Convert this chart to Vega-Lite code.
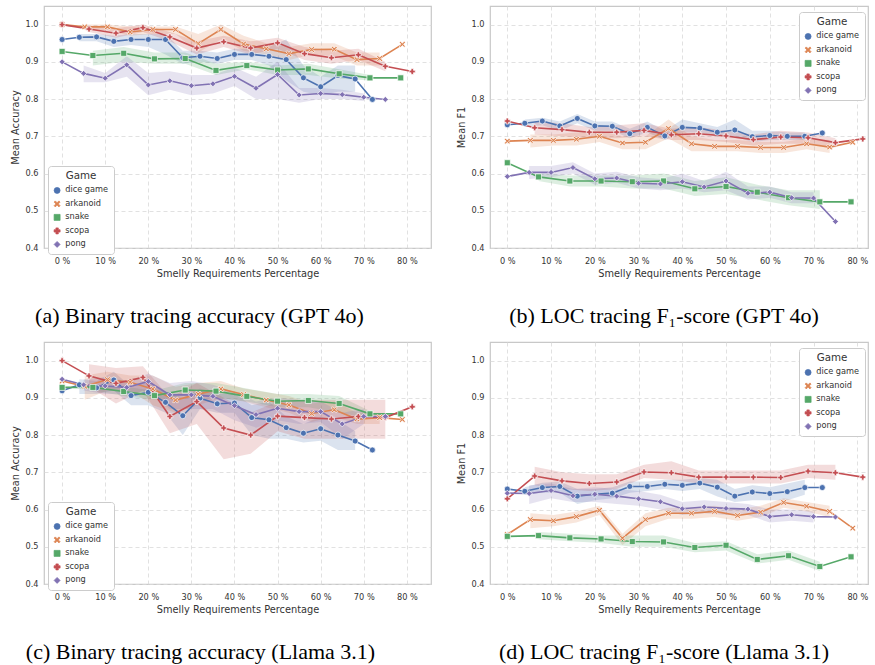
{
"$schema": "https://vega.github.io/schema/vega-lite/v6.json",
"padding": {"left": 10, "top": 5, "right": 0, "bottom": 0},
"datasets": {"d": [
{"p":"a","g":"dice game","x":0,"y":0.960},
{"p":"a","g":"dice game","x":4,"y":0.966,"lo":0.955,"hi":0.975},
{"p":"a","g":"dice game","x":8,"y":0.967,"lo":0.955,"hi":0.975},
{"p":"a","g":"dice game","x":12,"y":0.955,"lo":0.94,"hi":0.97},
{"p":"a","g":"dice game","x":16,"y":0.960,"lo":0.945,"hi":0.975},
{"p":"a","g":"dice game","x":20,"y":0.960,"lo":0.94,"hi":0.975},
{"p":"a","g":"dice game","x":24,"y":0.960,"lo":0.92,"hi":0.975},
{"p":"a","g":"dice game","x":28,"y":0.911,"lo":0.895,"hi":0.93},
{"p":"a","g":"dice game","x":32,"y":0.915,"lo":0.90,"hi":0.93},
{"p":"a","g":"dice game","x":36,"y":0.909,"lo":0.895,"hi":0.925},
{"p":"a","g":"dice game","x":40,"y":0.920,"lo":0.905,"hi":0.935},
{"p":"a","g":"dice game","x":44,"y":0.920,"lo":0.905,"hi":0.935},
{"p":"a","g":"dice game","x":48,"y":0.915,"lo":0.89,"hi":0.94},
{"p":"a","g":"dice game","x":52,"y":0.906,"lo":0.85,"hi":0.96},
{"p":"a","g":"dice game","x":56,"y":0.857,"lo":0.82,"hi":0.89},
{"p":"a","g":"dice game","x":60,"y":0.833,"lo":0.81,"hi":0.86},
{"p":"a","g":"dice game","x":64,"y":0.863,"lo":0.82,"hi":0.89},
{"p":"a","g":"dice game","x":68,"y":0.854,"lo":0.82,"hi":0.89},
{"p":"a","g":"dice game","x":72,"y":0.799},
{"p":"a","g":"arkanoid","x":0,"y":1.0},
{"p":"a","g":"arkanoid","x":5.26,"y":0.994,"lo":0.985,"hi":1.0},
{"p":"a","g":"arkanoid","x":10.53,"y":0.994,"lo":0.985,"hi":1.0},
{"p":"a","g":"arkanoid","x":15.79,"y":0.980,"lo":0.97,"hi":0.995},
{"p":"a","g":"arkanoid","x":21.05,"y":0.987,"lo":0.975,"hi":0.995},
{"p":"a","g":"arkanoid","x":26.32,"y":0.987,"lo":0.975,"hi":0.995},
{"p":"a","g":"arkanoid","x":31.58,"y":0.949,"lo":0.925,"hi":0.975},
{"p":"a","g":"arkanoid","x":36.84,"y":0.987,"lo":0.96,"hi":1.0},
{"p":"a","g":"arkanoid","x":42.11,"y":0.948,"lo":0.93,"hi":0.97},
{"p":"a","g":"arkanoid","x":47.37,"y":0.935,"lo":0.92,"hi":0.95},
{"p":"a","g":"arkanoid","x":52.63,"y":0.922,"lo":0.905,"hi":0.94},
{"p":"a","g":"arkanoid","x":57.89,"y":0.933,"lo":0.92,"hi":0.95},
{"p":"a","g":"arkanoid","x":63.16,"y":0.934,"lo":0.915,"hi":0.95},
{"p":"a","g":"arkanoid","x":68.42,"y":0.906,"lo":0.89,"hi":0.925},
{"p":"a","g":"arkanoid","x":73.68,"y":0.909,"lo":0.89,"hi":0.925},
{"p":"a","g":"arkanoid","x":78.95,"y":0.947},
{"p":"a","g":"snake","x":0,"y":0.928},
{"p":"a","g":"snake","x":7.14,"y":0.917,"lo":0.89,"hi":0.93},
{"p":"a","g":"snake","x":14.29,"y":0.923,"lo":0.90,"hi":0.94},
{"p":"a","g":"snake","x":21.43,"y":0.908,"lo":0.895,"hi":0.925},
{"p":"a","g":"snake","x":28.57,"y":0.909,"lo":0.895,"hi":0.925},
{"p":"a","g":"snake","x":35.71,"y":0.877,"lo":0.865,"hi":0.895},
{"p":"a","g":"snake","x":42.86,"y":0.890,"lo":0.88,"hi":0.90},
{"p":"a","g":"snake","x":50,"y":0.878,"lo":0.865,"hi":0.89},
{"p":"a","g":"snake","x":57.14,"y":0.881,"lo":0.865,"hi":0.895},
{"p":"a","g":"snake","x":64.29,"y":0.868,"lo":0.855,"hi":0.88},
{"p":"a","g":"snake","x":71.43,"y":0.857,"lo":0.85,"hi":0.865},
{"p":"a","g":"snake","x":78.57,"y":0.857},
{"p":"a","g":"scopa","x":0,"y":1.0},
{"p":"a","g":"scopa","x":6.25,"y":0.988,"lo":0.98,"hi":0.995},
{"p":"a","g":"scopa","x":12.5,"y":0.977,"lo":0.965,"hi":0.99},
{"p":"a","g":"scopa","x":18.75,"y":0.992,"lo":0.98,"hi":1.0},
{"p":"a","g":"scopa","x":25,"y":0.967,"lo":0.955,"hi":0.98},
{"p":"a","g":"scopa","x":31.25,"y":0.937,"lo":0.92,"hi":0.955},
{"p":"a","g":"scopa","x":37.5,"y":0.954,"lo":0.94,"hi":0.97},
{"p":"a","g":"scopa","x":43.75,"y":0.937,"lo":0.92,"hi":0.955},
{"p":"a","g":"scopa","x":50,"y":0.951,"lo":0.935,"hi":0.965},
{"p":"a","g":"scopa","x":56.25,"y":0.922,"lo":0.905,"hi":0.94},
{"p":"a","g":"scopa","x":62.5,"y":0.911,"lo":0.895,"hi":0.93},
{"p":"a","g":"scopa","x":68.75,"y":0.919,"lo":0.905,"hi":0.935},
{"p":"a","g":"scopa","x":75,"y":0.888,"lo":0.875,"hi":0.90},
{"p":"a","g":"scopa","x":81.25,"y":0.874},
{"p":"a","g":"pong","x":0,"y":0.900},
{"p":"a","g":"pong","x":5,"y":0.869,"lo":0.845,"hi":0.89},
{"p":"a","g":"pong","x":10,"y":0.856,"lo":0.845,"hi":0.87},
{"p":"a","g":"pong","x":15,"y":0.892,"lo":0.86,"hi":0.915},
{"p":"a","g":"pong","x":20,"y":0.838,"lo":0.81,"hi":0.87},
{"p":"a","g":"pong","x":25,"y":0.849,"lo":0.825,"hi":0.875},
{"p":"a","g":"pong","x":30,"y":0.836,"lo":0.81,"hi":0.865},
{"p":"a","g":"pong","x":35,"y":0.841,"lo":0.815,"hi":0.865},
{"p":"a","g":"pong","x":40,"y":0.861,"lo":0.835,"hi":0.885},
{"p":"a","g":"pong","x":45,"y":0.829,"lo":0.80,"hi":0.86},
{"p":"a","g":"pong","x":50,"y":0.866,"lo":0.80,"hi":0.90},
{"p":"a","g":"pong","x":55,"y":0.811,"lo":0.79,"hi":0.83},
{"p":"a","g":"pong","x":60,"y":0.815,"lo":0.80,"hi":0.83},
{"p":"a","g":"pong","x":65,"y":0.812,"lo":0.80,"hi":0.825},
{"p":"a","g":"pong","x":70,"y":0.805,"lo":0.795,"hi":0.815},
{"p":"a","g":"pong","x":75,"y":0.799},

{"p":"b","g":"dice game","x":0,"y":0.731},
{"p":"b","g":"dice game","x":4,"y":0.735,"lo":0.725,"hi":0.745},
{"p":"b","g":"dice game","x":8,"y":0.741,"lo":0.73,"hi":0.75},
{"p":"b","g":"dice game","x":12,"y":0.728,"lo":0.715,"hi":0.74},
{"p":"b","g":"dice game","x":16,"y":0.748,"lo":0.735,"hi":0.76},
{"p":"b","g":"dice game","x":20,"y":0.728,"lo":0.715,"hi":0.74},
{"p":"b","g":"dice game","x":24,"y":0.727,"lo":0.715,"hi":0.74},
{"p":"b","g":"dice game","x":28,"y":0.707,"lo":0.695,"hi":0.72},
{"p":"b","g":"dice game","x":32,"y":0.724,"lo":0.71,"hi":0.74},
{"p":"b","g":"dice game","x":36,"y":0.701,"lo":0.69,"hi":0.715},
{"p":"b","g":"dice game","x":40,"y":0.724,"lo":0.71,"hi":0.745},
{"p":"b","g":"dice game","x":44,"y":0.722,"lo":0.71,"hi":0.735},
{"p":"b","g":"dice game","x":48,"y":0.711,"lo":0.70,"hi":0.725},
{"p":"b","g":"dice game","x":52,"y":0.717,"lo":0.70,"hi":0.745},
{"p":"b","g":"dice game","x":56,"y":0.699,"lo":0.685,"hi":0.715},
{"p":"b","g":"dice game","x":60,"y":0.702,"lo":0.69,"hi":0.715},
{"p":"b","g":"dice game","x":64,"y":0.700,"lo":0.69,"hi":0.71},
{"p":"b","g":"dice game","x":68,"y":0.700,"lo":0.69,"hi":0.71},
{"p":"b","g":"dice game","x":72,"y":0.709},
{"p":"b","g":"arkanoid","x":0,"y":0.687},
{"p":"b","g":"arkanoid","x":5.26,"y":0.689,"lo":0.67,"hi":0.705},
{"p":"b","g":"arkanoid","x":10.53,"y":0.689,"lo":0.675,"hi":0.705},
{"p":"b","g":"arkanoid","x":15.79,"y":0.692,"lo":0.675,"hi":0.71},
{"p":"b","g":"arkanoid","x":21.05,"y":0.700,"lo":0.685,"hi":0.715},
{"p":"b","g":"arkanoid","x":26.32,"y":0.682,"lo":0.665,"hi":0.70},
{"p":"b","g":"arkanoid","x":31.58,"y":0.684,"lo":0.665,"hi":0.70},
{"p":"b","g":"arkanoid","x":36.84,"y":0.721,"lo":0.695,"hi":0.745},
{"p":"b","g":"arkanoid","x":42.11,"y":0.680,"lo":0.66,"hi":0.70},
{"p":"b","g":"arkanoid","x":47.37,"y":0.673,"lo":0.66,"hi":0.69},
{"p":"b","g":"arkanoid","x":52.63,"y":0.673,"lo":0.66,"hi":0.69},
{"p":"b","g":"arkanoid","x":57.89,"y":0.670,"lo":0.655,"hi":0.685},
{"p":"b","g":"arkanoid","x":63.16,"y":0.670,"lo":0.655,"hi":0.685},
{"p":"b","g":"arkanoid","x":68.42,"y":0.680,"lo":0.665,"hi":0.695},
{"p":"b","g":"arkanoid","x":73.68,"y":0.671,"lo":0.655,"hi":0.69},
{"p":"b","g":"arkanoid","x":78.95,"y":0.684},
{"p":"b","g":"snake","x":0,"y":0.629},
{"p":"b","g":"snake","x":7.14,"y":0.591,"lo":0.58,"hi":0.60},
{"p":"b","g":"snake","x":14.29,"y":0.580,"lo":0.565,"hi":0.595},
{"p":"b","g":"snake","x":21.43,"y":0.580,"lo":0.565,"hi":0.595},
{"p":"b","g":"snake","x":28.57,"y":0.578,"lo":0.56,"hi":0.595},
{"p":"b","g":"snake","x":35.71,"y":0.580,"lo":0.56,"hi":0.60},
{"p":"b","g":"snake","x":42.86,"y":0.559,"lo":0.54,"hi":0.58},
{"p":"b","g":"snake","x":50,"y":0.565,"lo":0.545,"hi":0.59},
{"p":"b","g":"snake","x":57.14,"y":0.550,"lo":0.53,"hi":0.57},
{"p":"b","g":"snake","x":64.29,"y":0.535,"lo":0.515,"hi":0.555},
{"p":"b","g":"snake","x":71.43,"y":0.524,"lo":0.505,"hi":0.555},
{"p":"b","g":"snake","x":78.57,"y":0.524},
{"p":"b","g":"scopa","x":0,"y":0.741},
{"p":"b","g":"scopa","x":6.25,"y":0.723,"lo":0.705,"hi":0.74},
{"p":"b","g":"scopa","x":12.5,"y":0.718,"lo":0.70,"hi":0.735},
{"p":"b","g":"scopa","x":18.75,"y":0.711,"lo":0.695,"hi":0.725},
{"p":"b","g":"scopa","x":25,"y":0.711,"lo":0.695,"hi":0.73},
{"p":"b","g":"scopa","x":31.25,"y":0.716,"lo":0.70,"hi":0.735},
{"p":"b","g":"scopa","x":37.5,"y":0.704,"lo":0.69,"hi":0.72},
{"p":"b","g":"scopa","x":43.75,"y":0.707,"lo":0.69,"hi":0.725},
{"p":"b","g":"scopa","x":50,"y":0.701,"lo":0.685,"hi":0.715},
{"p":"b","g":"scopa","x":56.25,"y":0.691,"lo":0.675,"hi":0.705},
{"p":"b","g":"scopa","x":62.5,"y":0.698,"lo":0.68,"hi":0.715},
{"p":"b","g":"scopa","x":68.75,"y":0.696,"lo":0.68,"hi":0.71},
{"p":"b","g":"scopa","x":75,"y":0.683,"lo":0.67,"hi":0.695},
{"p":"b","g":"scopa","x":81.25,"y":0.693},
{"p":"b","g":"pong","x":0,"y":0.592},
{"p":"b","g":"pong","x":5,"y":0.603,"lo":0.585,"hi":0.62},
{"p":"b","g":"pong","x":10,"y":0.603,"lo":0.59,"hi":0.62},
{"p":"b","g":"pong","x":15,"y":0.616,"lo":0.60,"hi":0.63},
{"p":"b","g":"pong","x":20,"y":0.586,"lo":0.57,"hi":0.60},
{"p":"b","g":"pong","x":25,"y":0.588,"lo":0.575,"hi":0.605},
{"p":"b","g":"pong","x":30,"y":0.574,"lo":0.56,"hi":0.59},
{"p":"b","g":"pong","x":35,"y":0.572,"lo":0.555,"hi":0.585},
{"p":"b","g":"pong","x":40,"y":0.578,"lo":0.56,"hi":0.60},
{"p":"b","g":"pong","x":45,"y":0.564,"lo":0.55,"hi":0.58},
{"p":"b","g":"pong","x":50,"y":0.580,"lo":0.555,"hi":0.605},
{"p":"b","g":"pong","x":55,"y":0.547,"lo":0.53,"hi":0.565},
{"p":"b","g":"pong","x":60,"y":0.550,"lo":0.535,"hi":0.565},
{"p":"b","g":"pong","x":65,"y":0.535,"lo":0.52,"hi":0.55},
{"p":"b","g":"pong","x":70,"y":0.534,"lo":0.52,"hi":0.55},
{"p":"b","g":"pong","x":75,"y":0.471},

{"p":"c","g":"dice game","x":0,"y":0.919},
{"p":"c","g":"dice game","x":4,"y":0.935,"lo":0.91,"hi":0.95},
{"p":"c","g":"dice game","x":8,"y":0.927,"lo":0.91,"hi":0.945},
{"p":"c","g":"dice game","x":12,"y":0.948,"lo":0.92,"hi":0.97},
{"p":"c","g":"dice game","x":16,"y":0.906,"lo":0.88,"hi":0.93},
{"p":"c","g":"dice game","x":20,"y":0.915,"lo":0.88,"hi":0.945},
{"p":"c","g":"dice game","x":24,"y":0.888,"lo":0.86,"hi":0.915},
{"p":"c","g":"dice game","x":28,"y":0.852,"lo":0.80,"hi":0.90},
{"p":"c","g":"dice game","x":32,"y":0.899,"lo":0.87,"hi":0.925},
{"p":"c","g":"dice game","x":36,"y":0.884,"lo":0.86,"hi":0.91},
{"p":"c","g":"dice game","x":40,"y":0.886,"lo":0.86,"hi":0.91},
{"p":"c","g":"dice game","x":44,"y":0.847,"lo":0.80,"hi":0.88},
{"p":"c","g":"dice game","x":48,"y":0.841,"lo":0.79,"hi":0.89},
{"p":"c","g":"dice game","x":52,"y":0.820,"lo":0.79,"hi":0.85},
{"p":"c","g":"dice game","x":56,"y":0.805,"lo":0.78,"hi":0.83},
{"p":"c","g":"dice game","x":60,"y":0.817,"lo":0.785,"hi":0.85},
{"p":"c","g":"dice game","x":64,"y":0.800,"lo":0.76,"hi":0.84},
{"p":"c","g":"dice game","x":68,"y":0.784,"lo":0.76,"hi":0.81},
{"p":"c","g":"dice game","x":72,"y":0.760},
{"p":"c","g":"arkanoid","x":0,"y":0.945},
{"p":"c","g":"arkanoid","x":5.26,"y":0.931,"lo":0.895,"hi":0.96},
{"p":"c","g":"arkanoid","x":10.53,"y":0.949,"lo":0.92,"hi":0.97},
{"p":"c","g":"arkanoid","x":15.79,"y":0.942,"lo":0.92,"hi":0.96},
{"p":"c","g":"arkanoid","x":21.05,"y":0.924,"lo":0.88,"hi":0.96},
{"p":"c","g":"arkanoid","x":26.32,"y":0.894,"lo":0.86,"hi":0.93},
{"p":"c","g":"arkanoid","x":31.58,"y":0.910,"lo":0.88,"hi":0.94},
{"p":"c","g":"arkanoid","x":36.84,"y":0.924,"lo":0.90,"hi":0.945},
{"p":"c","g":"arkanoid","x":42.11,"y":0.909,"lo":0.89,"hi":0.925},
{"p":"c","g":"arkanoid","x":47.37,"y":0.894,"lo":0.875,"hi":0.915},
{"p":"c","g":"arkanoid","x":52.63,"y":0.881,"lo":0.86,"hi":0.905},
{"p":"c","g":"arkanoid","x":57.89,"y":0.858,"lo":0.835,"hi":0.885},
{"p":"c","g":"arkanoid","x":63.16,"y":0.868,"lo":0.85,"hi":0.89},
{"p":"c","g":"arkanoid","x":68.42,"y":0.843,"lo":0.83,"hi":0.86},
{"p":"c","g":"arkanoid","x":73.68,"y":0.847,"lo":0.83,"hi":0.86},
{"p":"c","g":"arkanoid","x":78.95,"y":0.842},
{"p":"c","g":"snake","x":0,"y":0.928},
{"p":"c","g":"snake","x":7.14,"y":0.928,"lo":0.92,"hi":0.935},
{"p":"c","g":"snake","x":14.29,"y":0.917,"lo":0.905,"hi":0.93},
{"p":"c","g":"snake","x":21.43,"y":0.906,"lo":0.895,"hi":0.92},
{"p":"c","g":"snake","x":28.57,"y":0.921,"lo":0.905,"hi":0.94},
{"p":"c","g":"snake","x":35.71,"y":0.918,"lo":0.90,"hi":0.94},
{"p":"c","g":"snake","x":42.86,"y":0.904,"lo":0.89,"hi":0.925},
{"p":"c","g":"snake","x":50,"y":0.891,"lo":0.875,"hi":0.91},
{"p":"c","g":"snake","x":57.14,"y":0.893,"lo":0.875,"hi":0.91},
{"p":"c","g":"snake","x":64.29,"y":0.885,"lo":0.86,"hi":0.905},
{"p":"c","g":"snake","x":71.43,"y":0.857,"lo":0.845,"hi":0.865},
{"p":"c","g":"snake","x":78.57,"y":0.857},
{"p":"c","g":"scopa","x":0,"y":1.0},
{"p":"c","g":"scopa","x":6.25,"y":0.959,"lo":0.93,"hi":0.99},
{"p":"c","g":"scopa","x":12.5,"y":0.939,"lo":0.885,"hi":0.98},
{"p":"c","g":"scopa","x":18.75,"y":0.955,"lo":0.92,"hi":0.985},
{"p":"c","g":"scopa","x":25,"y":0.850,"lo":0.805,"hi":0.90},
{"p":"c","g":"scopa","x":31.25,"y":0.890,"lo":0.83,"hi":0.94},
{"p":"c","g":"scopa","x":37.5,"y":0.819,"lo":0.735,"hi":0.90},
{"p":"c","g":"scopa","x":43.75,"y":0.800,"lo":0.75,"hi":0.86},
{"p":"c","g":"scopa","x":50,"y":0.851,"lo":0.81,"hi":0.89},
{"p":"c","g":"scopa","x":56.25,"y":0.847,"lo":0.79,"hi":0.895},
{"p":"c","g":"scopa","x":62.5,"y":0.843,"lo":0.79,"hi":0.895},
{"p":"c","g":"scopa","x":68.75,"y":0.850,"lo":0.79,"hi":0.895},
{"p":"c","g":"scopa","x":75,"y":0.847,"lo":0.79,"hi":0.895},
{"p":"c","g":"scopa","x":81.25,"y":0.876},
{"p":"c","g":"pong","x":0,"y":0.950},
{"p":"c","g":"pong","x":5,"y":0.935,"lo":0.92,"hi":0.95},
{"p":"c","g":"pong","x":10,"y":0.932,"lo":0.91,"hi":0.955},
{"p":"c","g":"pong","x":15,"y":0.928,"lo":0.91,"hi":0.945},
{"p":"c","g":"pong","x":20,"y":0.944,"lo":0.92,"hi":0.965},
{"p":"c","g":"pong","x":25,"y":0.908,"lo":0.87,"hi":0.94},
{"p":"c","g":"pong","x":30,"y":0.908,"lo":0.87,"hi":0.945},
{"p":"c","g":"pong","x":35,"y":0.904,"lo":0.87,"hi":0.935},
{"p":"c","g":"pong","x":40,"y":0.879,"lo":0.84,"hi":0.915},
{"p":"c","g":"pong","x":45,"y":0.855,"lo":0.82,"hi":0.89},
{"p":"c","g":"pong","x":50,"y":0.872,"lo":0.84,"hi":0.90},
{"p":"c","g":"pong","x":55,"y":0.863,"lo":0.83,"hi":0.895},
{"p":"c","g":"pong","x":60,"y":0.863,"lo":0.835,"hi":0.89},
{"p":"c","g":"pong","x":65,"y":0.830,"lo":0.79,"hi":0.86},
{"p":"c","g":"pong","x":70,"y":0.850,"lo":0.83,"hi":0.87},
{"p":"c","g":"pong","x":75,"y":0.850},

{"p":"d","g":"dice game","x":0,"y":0.655},
{"p":"d","g":"dice game","x":4,"y":0.649,"lo":0.64,"hi":0.66},
{"p":"d","g":"dice game","x":8,"y":0.659,"lo":0.645,"hi":0.672},
{"p":"d","g":"dice game","x":12,"y":0.662,"lo":0.645,"hi":0.675},
{"p":"d","g":"dice game","x":16,"y":0.636,"lo":0.615,"hi":0.655},
{"p":"d","g":"dice game","x":20,"y":0.641,"lo":0.625,"hi":0.655},
{"p":"d","g":"dice game","x":24,"y":0.644,"lo":0.63,"hi":0.66},
{"p":"d","g":"dice game","x":28,"y":0.662,"lo":0.645,"hi":0.675},
{"p":"d","g":"dice game","x":32,"y":0.662,"lo":0.65,"hi":0.675},
{"p":"d","g":"dice game","x":36,"y":0.668,"lo":0.655,"hi":0.68},
{"p":"d","g":"dice game","x":40,"y":0.665,"lo":0.65,"hi":0.68},
{"p":"d","g":"dice game","x":44,"y":0.671,"lo":0.655,"hi":0.685},
{"p":"d","g":"dice game","x":48,"y":0.660,"lo":0.635,"hi":0.68},
{"p":"d","g":"dice game","x":52,"y":0.636,"lo":0.62,"hi":0.655},
{"p":"d","g":"dice game","x":56,"y":0.647,"lo":0.625,"hi":0.665},
{"p":"d","g":"dice game","x":60,"y":0.643,"lo":0.625,"hi":0.66},
{"p":"d","g":"dice game","x":64,"y":0.648,"lo":0.625,"hi":0.67},
{"p":"d","g":"dice game","x":68,"y":0.659,"lo":0.64,"hi":0.68},
{"p":"d","g":"dice game","x":72,"y":0.659},
{"p":"d","g":"arkanoid","x":0,"y":0.533},
{"p":"d","g":"arkanoid","x":5.26,"y":0.573,"lo":0.55,"hi":0.59},
{"p":"d","g":"arkanoid","x":10.53,"y":0.570,"lo":0.555,"hi":0.585},
{"p":"d","g":"arkanoid","x":15.79,"y":0.581,"lo":0.565,"hi":0.595},
{"p":"d","g":"arkanoid","x":21.05,"y":0.598,"lo":0.585,"hi":0.61},
{"p":"d","g":"arkanoid","x":26.32,"y":0.523,"lo":0.505,"hi":0.535},
{"p":"d","g":"arkanoid","x":31.58,"y":0.573,"lo":0.555,"hi":0.59},
{"p":"d","g":"arkanoid","x":36.84,"y":0.590,"lo":0.575,"hi":0.605},
{"p":"d","g":"arkanoid","x":42.11,"y":0.590,"lo":0.575,"hi":0.605},
{"p":"d","g":"arkanoid","x":47.37,"y":0.595,"lo":0.58,"hi":0.61},
{"p":"d","g":"arkanoid","x":52.63,"y":0.584,"lo":0.57,"hi":0.60},
{"p":"d","g":"arkanoid","x":57.89,"y":0.593,"lo":0.58,"hi":0.61},
{"p":"d","g":"arkanoid","x":63.16,"y":0.619,"lo":0.605,"hi":0.63},
{"p":"d","g":"arkanoid","x":68.42,"y":0.609,"lo":0.595,"hi":0.62},
{"p":"d","g":"arkanoid","x":73.68,"y":0.595,"lo":0.58,"hi":0.61},
{"p":"d","g":"arkanoid","x":78.95,"y":0.550},
{"p":"d","g":"snake","x":0,"y":0.528},
{"p":"d","g":"snake","x":7.14,"y":0.530,"lo":0.52,"hi":0.54},
{"p":"d","g":"snake","x":14.29,"y":0.524,"lo":0.515,"hi":0.535},
{"p":"d","g":"snake","x":21.43,"y":0.521,"lo":0.51,"hi":0.53},
{"p":"d","g":"snake","x":28.57,"y":0.514,"lo":0.50,"hi":0.53},
{"p":"d","g":"snake","x":35.71,"y":0.513,"lo":0.50,"hi":0.53},
{"p":"d","g":"snake","x":42.86,"y":0.498,"lo":0.485,"hi":0.51},
{"p":"d","g":"snake","x":50,"y":0.504,"lo":0.49,"hi":0.515},
{"p":"d","g":"snake","x":57.14,"y":0.466,"lo":0.455,"hi":0.48},
{"p":"d","g":"snake","x":64.29,"y":0.476,"lo":0.465,"hi":0.49},
{"p":"d","g":"snake","x":71.43,"y":0.447,"lo":0.435,"hi":0.46},
{"p":"d","g":"snake","x":78.57,"y":0.473},
{"p":"d","g":"scopa","x":0,"y":0.629},
{"p":"d","g":"scopa","x":6.25,"y":0.690,"lo":0.665,"hi":0.715},
{"p":"d","g":"scopa","x":12.5,"y":0.677,"lo":0.655,"hi":0.70},
{"p":"d","g":"scopa","x":18.75,"y":0.670,"lo":0.65,"hi":0.695},
{"p":"d","g":"scopa","x":25,"y":0.674,"lo":0.655,"hi":0.695},
{"p":"d","g":"scopa","x":31.25,"y":0.701,"lo":0.685,"hi":0.72},
{"p":"d","g":"scopa","x":37.5,"y":0.699,"lo":0.68,"hi":0.73},
{"p":"d","g":"scopa","x":43.75,"y":0.687,"lo":0.67,"hi":0.705},
{"p":"d","g":"scopa","x":50,"y":0.687,"lo":0.67,"hi":0.705},
{"p":"d","g":"scopa","x":56.25,"y":0.687,"lo":0.67,"hi":0.705},
{"p":"d","g":"scopa","x":62.5,"y":0.686,"lo":0.67,"hi":0.705},
{"p":"d","g":"scopa","x":68.75,"y":0.703,"lo":0.685,"hi":0.72},
{"p":"d","g":"scopa","x":75,"y":0.699,"lo":0.68,"hi":0.72},
{"p":"d","g":"scopa","x":81.25,"y":0.687},
{"p":"d","g":"pong","x":0,"y":0.644},
{"p":"d","g":"pong","x":5,"y":0.643,"lo":0.615,"hi":0.665},
{"p":"d","g":"pong","x":10,"y":0.651,"lo":0.63,"hi":0.67},
{"p":"d","g":"pong","x":15,"y":0.637,"lo":0.62,"hi":0.655},
{"p":"d","g":"pong","x":20,"y":0.641,"lo":0.62,"hi":0.66},
{"p":"d","g":"pong","x":25,"y":0.636,"lo":0.615,"hi":0.655},
{"p":"d","g":"pong","x":30,"y":0.629,"lo":0.61,"hi":0.65},
{"p":"d","g":"pong","x":35,"y":0.621,"lo":0.60,"hi":0.64},
{"p":"d","g":"pong","x":40,"y":0.602,"lo":0.585,"hi":0.62},
{"p":"d","g":"pong","x":45,"y":0.607,"lo":0.59,"hi":0.625},
{"p":"d","g":"pong","x":50,"y":0.603,"lo":0.585,"hi":0.62},
{"p":"d","g":"pong","x":55,"y":0.601,"lo":0.585,"hi":0.615},
{"p":"d","g":"pong","x":60,"y":0.581,"lo":0.565,"hi":0.60},
{"p":"d","g":"pong","x":65,"y":0.586,"lo":0.57,"hi":0.60},
{"p":"d","g":"pong","x":70,"y":0.581,"lo":0.565,"hi":0.595},
{"p":"d","g":"pong","x":75,"y":0.580}
]},
"data": {"name": "d"},
"columns": 2,
"spacing": {"column": 24, "row": 13},
"resolve": {"scale": {"color": "independent", "shape": "independent", "size": "independent"}, "legend": {"color": "independent", "shape": "independent"}},
"concat": [
{
 "width": 387, "height": 242,
 "title": {"text": "(a) Binary tracing accuracy (GPT 4o)", "orient": "bottom", "anchor": "middle", "dx": -38, "offset": 28},
 "transform": [{"filter": "datum.p === 'a'"}],
 "encoding": {
  "x": {"field": "x", "type": "quantitative", "scale": {"domain": [-4.2, 85.6], "nice": false, "zero": false}, "axis": {"values": [0,10,20,30,40,50,60,70,80], "labelExpr": "datum.value + ' %'", "title": "Smelly Requirements Percentage"}},
  "color": {"field": "g", "type": "nominal", "scale": {"domain": ["dice game","arkanoid","snake","scopa","pong"], "range": ["#4C72B0","#DD8452","#55A868","#C44E52","#8172B3"]},
   "legend": {"title": "Game", "orient": "none", "legendX": 4, "legendY": 160,
    "encode": {"symbols": {"update": {"opacity": {"value": 1}, "fillOpacity": {"value": 1}, "stroke": {"value": "white"}, "strokeWidth": {"value": 0.7},
      "shape": {"signal": "datum.value === 'dice game' ? 'circle' : datum.value === 'arkanoid' ? 'M-1,-0.6L-0.6,-1L0,-0.4L0.6,-1L1,-0.6L0.4,0L1,0.6L0.6,1L0,0.4L-0.6,1L-1,0.6L-0.4,0Z' : datum.value === 'snake' ? 'square' : datum.value === 'scopa' ? 'cross' : 'diamond'"},
      "size": {"signal": "datum.value === 'snake' ? 16 : datum.value === 'pong' ? 25 : datum.value === 'scopa' ? 30 : 36"}}}}}}
 },
 "layer": [
  {"transform": [{"filter": "isValid(datum.lo)"}], "mark": {"type": "area", "opacity": 0.2}, "encoding": {"y": {"field": "lo", "type": "quantitative", "scale": {"domain": [0.4, 1.05], "nice": false, "zero": false}, "axis": {"values": [0.4,0.5,0.6,0.7,0.8,0.9,1.0], "format": ".1f"}, "title": "Mean Accuracy"}, "y2": {"field": "hi"}}},
  {"mark": {"type": "line", "strokeWidth": 1.6}, "encoding": {"y": {"field": "y", "type": "quantitative", "title": "Mean Accuracy"}}},
  {"mark": {"type": "point", "filled": true, "opacity": 1, "stroke": "white", "strokeWidth": 0.7}, "encoding": {"y": {"field": "y", "type": "quantitative", "title": "Mean Accuracy"},
    "shape": {"field": "g", "type": "nominal", "scale": {"domain": ["dice game","arkanoid","snake","scopa","pong"], "range": ["circle","M-1,-0.6L-0.6,-1L0,-0.4L0.6,-1L1,-0.6L0.4,0L1,0.6L0.6,1L0,0.4L-0.6,1L-1,0.6L-0.4,0Z","square","cross","diamond"]}, "legend": null},
    "size": {"field": "g", "type": "nominal", "scale": {"domain": ["dice game","arkanoid","snake","scopa","pong"], "range": [36,36,16,30,25]}, "legend": null}}}
 ]
},
{
 "width": 378, "height": 242,
 "title": {"text": "(b) LOC tracing F₁-score (GPT 4o)", "orient": "bottom", "anchor": "middle", "dx": -15, "offset": 28},
 "transform": [{"filter": "datum.p === 'b'"}],
 "encoding": {
  "x": {"field": "x", "type": "quantitative", "scale": {"domain": [-3.96, 82.45], "nice": false, "zero": false}, "axis": {"values": [0,10,20,30,40,50,60,70,80], "labelExpr": "datum.value + ' %'", "title": "Smelly Requirements Percentage"}},
  "color": {"field": "g", "type": "nominal", "scale": {"domain": ["dice game","arkanoid","snake","scopa","pong"], "range": ["#4C72B0","#DD8452","#55A868","#C44E52","#8172B3"]},
   "legend": {"title": "Game", "orient": "none", "legendX": 309, "legendY": 6,
    "encode": {"symbols": {"update": {"opacity": {"value": 1}, "fillOpacity": {"value": 1}, "stroke": {"value": "white"}, "strokeWidth": {"value": 0.7},
      "shape": {"signal": "datum.value === 'dice game' ? 'circle' : datum.value === 'arkanoid' ? 'M-1,-0.6L-0.6,-1L0,-0.4L0.6,-1L1,-0.6L0.4,0L1,0.6L0.6,1L0,0.4L-0.6,1L-1,0.6L-0.4,0Z' : datum.value === 'snake' ? 'square' : datum.value === 'scopa' ? 'cross' : 'diamond'"},
      "size": {"signal": "datum.value === 'snake' ? 16 : datum.value === 'pong' ? 25 : datum.value === 'scopa' ? 30 : 36"}}}}}}
 },
 "layer": [
  {"transform": [{"filter": "isValid(datum.lo)"}], "mark": {"type": "area", "opacity": 0.2}, "encoding": {"y": {"field": "lo", "type": "quantitative", "scale": {"domain": [0.4, 1.05], "nice": false, "zero": false}, "axis": {"values": [0.4,0.5,0.6,0.7,0.8,0.9,1.0], "format": ".1f"}, "title": "Mean F1"}, "y2": {"field": "hi"}}},
  {"mark": {"type": "line", "strokeWidth": 1.6}, "encoding": {"y": {"field": "y", "type": "quantitative", "title": "Mean F1"}}},
  {"mark": {"type": "point", "filled": true, "opacity": 1, "stroke": "white", "strokeWidth": 0.7}, "encoding": {"y": {"field": "y", "type": "quantitative", "title": "Mean F1"},
    "shape": {"field": "g", "type": "nominal", "scale": {"domain": ["dice game","arkanoid","snake","scopa","pong"], "range": ["circle","M-1,-0.6L-0.6,-1L0,-0.4L0.6,-1L1,-0.6L0.4,0L1,0.6L0.6,1L0,0.4L-0.6,1L-1,0.6L-0.4,0Z","square","cross","diamond"]}, "legend": null},
    "size": {"field": "g", "type": "nominal", "scale": {"domain": ["dice game","arkanoid","snake","scopa","pong"], "range": [36,36,16,30,25]}, "legend": null}}}
 ]
},
{
 "width": 387, "height": 242,
 "title": {"text": "(c) Binary tracing accuracy (Llama 3.1)", "orient": "bottom", "anchor": "middle", "dx": -37, "offset": 28},
 "transform": [{"filter": "datum.p === 'c'"}],
 "encoding": {
  "x": {"field": "x", "type": "quantitative", "scale": {"domain": [-4.2, 85.6], "nice": false, "zero": false}, "axis": {"values": [0,10,20,30,40,50,60,70,80], "labelExpr": "datum.value + ' %'", "title": "Smelly Requirements Percentage"}},
  "color": {"field": "g", "type": "nominal", "scale": {"domain": ["dice game","arkanoid","snake","scopa","pong"], "range": ["#4C72B0","#DD8452","#55A868","#C44E52","#8172B3"]},
   "legend": {"title": "Game", "orient": "none", "legendX": 4, "legendY": 160,
    "encode": {"symbols": {"update": {"opacity": {"value": 1}, "fillOpacity": {"value": 1}, "stroke": {"value": "white"}, "strokeWidth": {"value": 0.7},
      "shape": {"signal": "datum.value === 'dice game' ? 'circle' : datum.value === 'arkanoid' ? 'M-1,-0.6L-0.6,-1L0,-0.4L0.6,-1L1,-0.6L0.4,0L1,0.6L0.6,1L0,0.4L-0.6,1L-1,0.6L-0.4,0Z' : datum.value === 'snake' ? 'square' : datum.value === 'scopa' ? 'cross' : 'diamond'"},
      "size": {"signal": "datum.value === 'snake' ? 16 : datum.value === 'pong' ? 25 : datum.value === 'scopa' ? 30 : 36"}}}}}}
 },
 "layer": [
  {"transform": [{"filter": "isValid(datum.lo)"}], "mark": {"type": "area", "opacity": 0.2}, "encoding": {"y": {"field": "lo", "type": "quantitative", "scale": {"domain": [0.4, 1.05], "nice": false, "zero": false}, "axis": {"values": [0.4,0.5,0.6,0.7,0.8,0.9,1.0], "format": ".1f"}, "title": "Mean Accuracy"}, "y2": {"field": "hi"}}},
  {"mark": {"type": "line", "strokeWidth": 1.6}, "encoding": {"y": {"field": "y", "type": "quantitative", "title": "Mean Accuracy"}}},
  {"mark": {"type": "point", "filled": true, "opacity": 1, "stroke": "white", "strokeWidth": 0.7}, "encoding": {"y": {"field": "y", "type": "quantitative", "title": "Mean Accuracy"},
    "shape": {"field": "g", "type": "nominal", "scale": {"domain": ["dice game","arkanoid","snake","scopa","pong"], "range": ["circle","M-1,-0.6L-0.6,-1L0,-0.4L0.6,-1L1,-0.6L0.4,0L1,0.6L0.6,1L0,0.4L-0.6,1L-1,0.6L-0.4,0Z","square","cross","diamond"]}, "legend": null},
    "size": {"field": "g", "type": "nominal", "scale": {"domain": ["dice game","arkanoid","snake","scopa","pong"], "range": [36,36,16,30,25]}, "legend": null}}}
 ]
},
{
 "width": 378, "height": 242,
 "title": {"text": "(d) LOC tracing F₁-score (Llama 3.1)", "orient": "bottom", "anchor": "middle", "dx": -15, "offset": 28},
 "transform": [{"filter": "datum.p === 'd'"}],
 "encoding": {
  "x": {"field": "x", "type": "quantitative", "scale": {"domain": [-3.96, 82.45], "nice": false, "zero": false}, "axis": {"values": [0,10,20,30,40,50,60,70,80], "labelExpr": "datum.value + ' %'", "title": "Smelly Requirements Percentage"}},
  "color": {"field": "g", "type": "nominal", "scale": {"domain": ["dice game","arkanoid","snake","scopa","pong"], "range": ["#4C72B0","#DD8452","#55A868","#C44E52","#8172B3"]},
   "legend": {"title": "Game", "orient": "none", "legendX": 309, "legendY": 6,
    "encode": {"symbols": {"update": {"opacity": {"value": 1}, "fillOpacity": {"value": 1}, "stroke": {"value": "white"}, "strokeWidth": {"value": 0.7},
      "shape": {"signal": "datum.value === 'dice game' ? 'circle' : datum.value === 'arkanoid' ? 'M-1,-0.6L-0.6,-1L0,-0.4L0.6,-1L1,-0.6L0.4,0L1,0.6L0.6,1L0,0.4L-0.6,1L-1,0.6L-0.4,0Z' : datum.value === 'snake' ? 'square' : datum.value === 'scopa' ? 'cross' : 'diamond'"},
      "size": {"signal": "datum.value === 'snake' ? 16 : datum.value === 'pong' ? 25 : datum.value === 'scopa' ? 30 : 36"}}}}}}
 },
 "layer": [
  {"transform": [{"filter": "isValid(datum.lo)"}], "mark": {"type": "area", "opacity": 0.2}, "encoding": {"y": {"field": "lo", "type": "quantitative", "scale": {"domain": [0.4, 1.05], "nice": false, "zero": false}, "axis": {"values": [0.4,0.5,0.6,0.7,0.8,0.9,1.0], "format": ".1f"}, "title": "Mean F1"}, "y2": {"field": "hi"}}},
  {"mark": {"type": "line", "strokeWidth": 1.6}, "encoding": {"y": {"field": "y", "type": "quantitative", "title": "Mean F1"}}},
  {"mark": {"type": "point", "filled": true, "opacity": 1, "stroke": "white", "strokeWidth": 0.7}, "encoding": {"y": {"field": "y", "type": "quantitative", "title": "Mean F1"},
    "shape": {"field": "g", "type": "nominal", "scale": {"domain": ["dice game","arkanoid","snake","scopa","pong"], "range": ["circle","M-1,-0.6L-0.6,-1L0,-0.4L0.6,-1L1,-0.6L0.4,0L1,0.6L0.6,1L0,0.4L-0.6,1L-1,0.6L-0.4,0Z","square","cross","diamond"]}, "legend": null},
    "size": {"field": "g", "type": "nominal", "scale": {"domain": ["dice game","arkanoid","snake","scopa","pong"], "range": [36,36,16,30,25]}, "legend": null}}}
 ]
}
],
"config": {
 "font": "DejaVu Sans",
 "view": {"stroke": "#c8c8c8", "strokeWidth": 1.2},
 "axis": {"labelFont": "DejaVu Sans", "labelFontSize": 8.2, "labelColor": "#333333", "titleFont": "DejaVu Sans", "titleFontSize": 9.8, "titleFontWeight": "normal", "titleColor": "#333333", "ticks": false, "tickSize": 0, "domain": false, "gridColor": "#d9d9d9", "gridDash": [4, 3], "gridWidth": 0.8},
 "axisX": {"labelPadding": 9, "titlePadding": 4},
 "axisY": {"labelPadding": 6, "titlePadding": 4},
 "legend": {"fillColor": "white", "strokeColor": "#cccccc", "cornerRadius": 3, "padding": 5, "titleFontSize": 10.3, "titleFontWeight": "normal", "titleColor": "#333333", "titleAnchor": "middle", "titleAlign": "center", "labelFontSize": 8.2, "labelColor": "#333333", "rowPadding": 3.5},
 "title": {"font": "Liberation Serif", "fontSize": 22, "fontWeight": "normal", "color": "black"}
}
}
